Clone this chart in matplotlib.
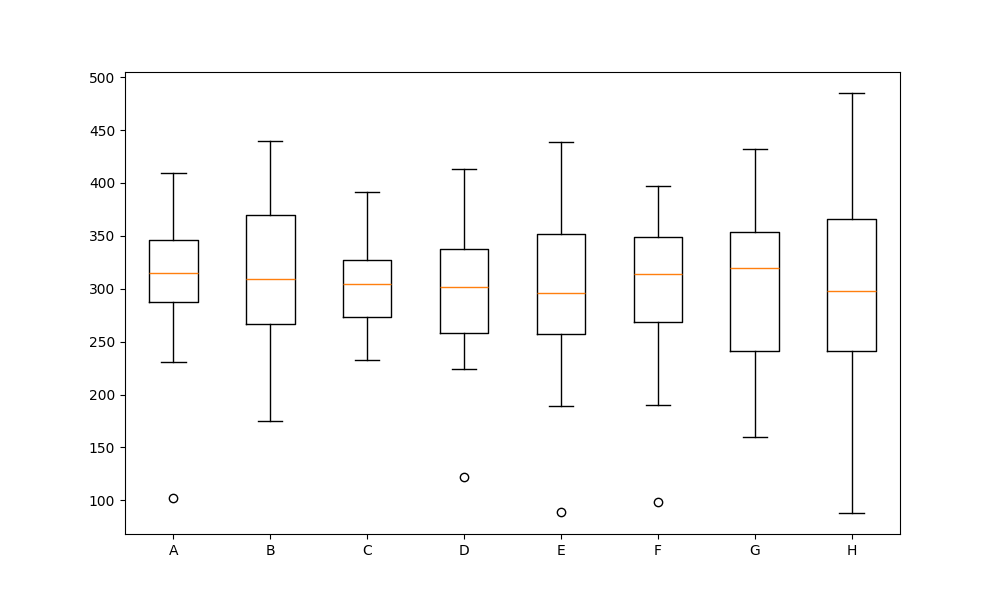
import matplotlib
matplotlib.use("Agg")
import matplotlib.pyplot as plt

# -----------------------------
# Box statistics
# -----------------------------
labels = ['A', 'B', 'C', 'D', 'E', 'F', 'G', 'H']
whis_low = [231, 175, 233, 224, 189, 190, 160, 88]
q1 = [287, 267, 273, 258, 257, 269, 241, 241]
medians = [315, 309, 304, 302, 296, 314, 320, 298]
q3 = [346, 370, 327, 338, 352, 349, 354, 366]
whis_high = [409, 440, 391, 413, 439, 397, 432, 485]
fliers = [[102], [], [], [122], [89], [98], [], []]

stats = []
for i in range(len(labels)):
    stats.append({
        'label': labels[i],
        'whislo': whis_low[i],
        'q1': q1[i],
        'med': medians[i],
        'q3': q3[i],
        'whishi': whis_high[i],
        'fliers': fliers[i],
    })

fig, ax = plt.subplots(figsize=(10, 6))
ax.bxp(stats)
plt.savefig("out.png", dpi=100)
